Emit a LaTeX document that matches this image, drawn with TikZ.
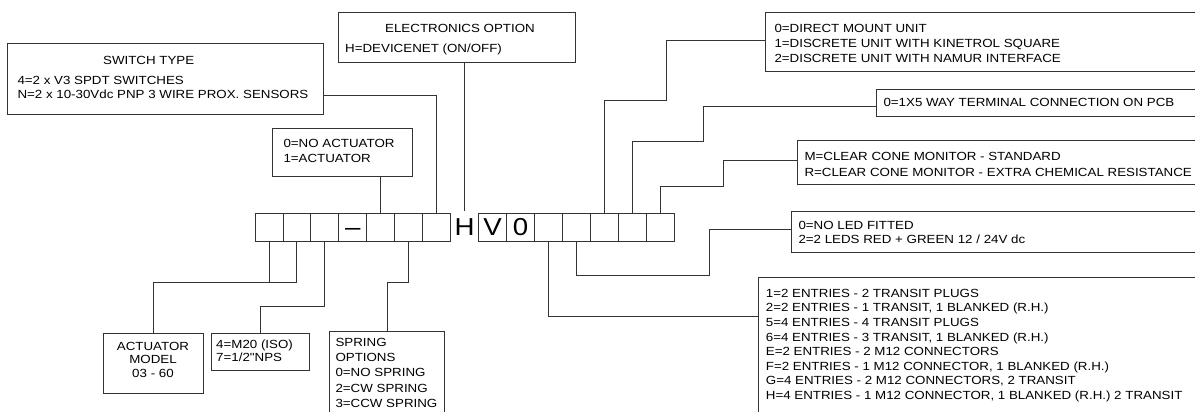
\documentclass[tikz,border=0pt]{standalone}
\usepackage{fontspec}
\setmainfont{Liberation Sans}[FakeStretch=1.13, Ligatures=TeXOff]
\newcommand\bigf{\fontsize{24.5}{28}\selectfont}
\newcommand\smf[1]{\fontsize{11.8}{#1}\selectfont}
\begin{document}
\begin{tikzpicture}[x=1pt,y=-1pt,
  conn/.style={draw=black!80, line width=0.9pt},
  box/.style={conn, rectangle, inner sep=0pt, anchor=north west},
  cbox/.style={conn, rectangle, inner sep=0pt, minimum width=27.95pt, minimum height=28pt,
     font=\bigf, text height=17.5pt, text depth=0pt},
  txt/.style={inner sep=0pt, anchor=base west, align=left, font=\smf{14.6}},
]
\clip (0,0) rectangle (1195,412);
% option boxes
\node[box, minimum width=315.4pt, minimum height=70.7pt] (sw) at (7.3,43.3) {};
\node[box, minimum width=236.4pt, minimum height=50.3pt] (el) at (338.3,11.7) {};
\node[box, minimum width=140pt, minimum height=47.7pt] (act) at (271.7,128.3) {};
\node[box, minimum width=99.4pt, minimum height=59.4pt] (am) at (103.3,333.3) {};
\node[box, minimum width=98.6pt, minimum height=36.7pt] (m20) at (210.7,333.3) {};
\node[box, minimum width=115pt, minimum height=100pt] (sp) at (329.3,330.7) {};
\node[box, minimum width=480pt, minimum height=58.4pt] (b1) at (765,12.3) {};
\node[box, minimum width=400pt, minimum height=27pt] (b2) at (876,89) {};
\node[box, minimum width=440pt, minimum height=44.3pt] (b3) at (796.7,140) {};
\node[box, minimum width=440pt, minimum height=41pt] (b4) at (791,210.7) {};
\node[box, minimum width=480pt, minimum height=160pt] (b5) at (757.7,276.7) {};
% code row
\foreach \i in {1,2,3,5,6,7} \node[cbox] (c\i) at ({255+27.95*(\i-0.5)},227) {};
\node[cbox] (c4) at ({255+27.95*3.5},227) {–};
\node[inner sep=0pt, font=\bigf, text height=17.5pt, text depth=0pt] (H) at (464.7,227) {H};
\node[cbox] (r1) at ({478.7+27.9*0.5},227) {V};
\node[cbox] (r2) at ({478.7+27.9*1.5},227) {0};
\foreach \i in {3,...,7} \node[cbox] (r\i) at ({478.7+27.9*(\i-0.5)},227) {};
% texts (multi-line nodes are anchored at the baseline of their last line)
\node[txt, anchor=base] (swt) at (148.7,64.9) {SWITCH TYPE};
\node[txt, font=\smf{14.3}] (swl) at (17.3,98.5) {4=2 x V3 SPDT SWITCHES\\N=2 x 10-30Vdc PNP 3 WIRE PROX. SENSORS};
\node[txt, anchor=base] (elt) at (460,32.5) {ELECTRONICS OPTION};
\node[txt] (ell) at (345,52.5) {H=DEVICENET (ON/OFF)};
\node[txt, font=\smf{15}] (actt) at (283.3,162.5) {0=NO ACTUATOR\\1=ACTUATOR};
\node[txt, font=\smf{15}] (b1t) at (774.3,62.5) {0=DIRECT MOUNT UNIT\\1=DISCRETE UNIT WITH KINETROL SQUARE\\2=DISCRETE UNIT WITH NAMUR INTERFACE};
\node[txt] (b2t) at (883.3,106.9) {0=1X5 WAY TERMINAL CONNECTION ON PCB};
\node[txt, font=\smf{15.6}] (b3t) at (804.3,176.5) {M=CLEAR CONE MONITOR - STANDARD\\R=CLEAR CONE MONITOR - EXTRA CHEMICAL RESISTANCE};
\node[txt, font=\smf{14.3}] (b4t) at (798.3,243.5) {0=NO LED FITTED\\2=2 LEDS RED + GREEN 12 / 24V dc};
\node[txt] (b5t) at (765.7,399.4) {1=2 ENTRIES - 2 TRANSIT PLUGS\\2=2 ENTRIES - 1 TRANSIT, 1 BLANKED (R.H.)\\5=4 ENTRIES - 4 TRANSIT PLUGS\\6=4 ENTRIES - 3 TRANSIT, 1 BLANKED (R.H.)\\E=2 ENTRIES - 2 M12 CONNECTORS\\F=2 ENTRIES - 1 M12 CONNECTOR, 1 BLANKED (R.H.)\\G=4 ENTRIES - 2 M12 CONNECTORS, 2 TRANSIT\\H=4 ENTRIES - 1 M12 CONNECTOR, 1 BLANKED (R.H.) 2 TRANSIT};
\node[txt, anchor=base, align=center, font=\smf{13.7}] (amt) at (153,377.6) {ACTUATOR\\MODEL\\03 - 60};
\node[txt, font=\smf{13.4}] (m20t) at (216,361.9) {4=M20 (ISO)\\7=1/2"NPS};
\node[txt, font=\smf{15.2}] (spt) at (335.3,407.3) {SPRING\\OPTIONS\\0=NO SPRING\\2=CW SPRING\\3=CCW SPRING};
% connectors
\draw[conn] (sw.east |- 0,95.7) -| (c7.north);
\draw[conn] (act.south -| c5) -- (c5.north);
\draw[conn] (el.south -| H) -- ([yshift=1.3pt]c1.north -| H);
\draw[conn] (b1.west |- 0,40) -| (666,100) -| (r5.north);
\draw[conn] (b2.west |- 0,106) -| (703.7,141) -| (r6.north);
\draw[conn] (b3.west |- 0,160) -| (723.2,186) -| (r7.north);
\draw[conn] (b4.west |- 0,229) -| (709.4,275) -| (r4.south);
\draw[conn] (r3.south) |- (b5.west |- 0,316.7);
\draw[conn] (c1.south) -- (c1.south |- 0,282.7);
\draw[conn] (c2.south) |- (am.north |- 0,282.7) -- (am.north);
\draw[conn] (c3.south) |- (m20.north |- 0,306.7) -- (m20.north);
\draw[conn] (c6.south) |- (sp.north |- 0,282.7) -- (sp.north);
\end{tikzpicture}
\end{document}
